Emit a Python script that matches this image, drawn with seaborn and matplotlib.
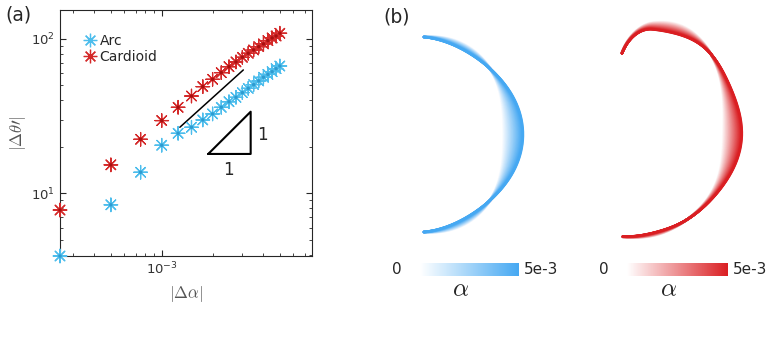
import numpy as np
import pandas as pd
import seaborn as sns
import matplotlib
matplotlib.use("Agg")
from matplotlib import pyplot as plt
from matplotlib.colors import LinearSegmentedColormap, Normalize
from matplotlib.cm import ScalarMappable
from matplotlib.ticker import NullFormatter

# ---- panel (a) data ----
d_alpha = [0.25e-3, 0.50e-3, 0.75e-3, 1.00e-3, 1.25e-3, 1.50e-3, 1.75e-3, 2.00e-3,
           2.25e-3, 2.50e-3, 2.75e-3, 3.00e-3, 3.25e-3, 3.50e-3, 3.75e-3, 4.00e-3,
           4.25e-3, 4.50e-3, 4.75e-3, 5.00e-3]
arc_dtheta = [3.93, 8.43, 13.7, 20.5, 24.5, 26.8, 29.9, 32.7, 36.1, 39.2,
              41.9, 44.9, 47.9, 50.6, 53.5, 56.5, 59.0, 61.4, 64.2, 66.8]
card_dtheta = [7.8, 15.3, 22.4, 29.6, 36.1, 42.7, 49.1, 54.8, 60.5, 66.1,
               71.0, 76.1, 80.8, 84.9, 89.1, 92.9, 97.5, 101.5, 104.5, 108.9]
shapes = ["Arc", "Cardioid"]

# slope guide and slope-1 triangle
guide_x = [1.28e-3, 3.04e-3]
guide_y = [26.8, 63.0]
tri_x = [1.885e-3, 3.36e-3, 3.36e-3, 1.885e-3]
tri_y = [18.0, 18.0, 33.8, 18.0]

blue = "#4DBDEC"
red = "#D42A2A"
blue_dark = "#2E9BD0"
red_dark = "#A80F0F"

df = pd.DataFrame({
    "d_alpha": d_alpha * 2,
    "d_theta": arc_dtheta + card_dtheta,
    "shape": [shapes[0]] * len(d_alpha) + [shapes[1]] * len(d_alpha),
})

sns.set_style("ticks", {"xtick.direction": "in", "ytick.direction": "in"})
plt.rcParams["font.family"] = ["DejaVu Sans"]
plt.rcParams["axes.edgecolor"] = "#262626"
plt.rcParams["axes.linewidth"] = 0.8

fig = plt.figure(figsize=(7.74, 3.44), dpi=100)
ax = fig.add_axes([60 / 774, 1 - 256 / 344, 252 / 774, 246 / 344])

sns.scatterplot(data=df, x="d_alpha", y="d_theta", hue="shape",
                palette=[blue, red], marker=(8, 2, 0), s=95, linewidth=0.9,
                ax=ax, zorder=3, clip_on=False)
sns.scatterplot(data=df, x="d_alpha", y="d_theta", hue="shape",
                palette=[blue_dark, red_dark], marker="o", s=6, linewidth=0,
                ax=ax, zorder=4, clip_on=False, legend=False)
ax.set_xscale("log")
ax.set_yscale("log")
ax.set_xlim(2.5e-4, 7.75e-3)
ax.set_ylim(arc_dtheta[0], 154)
ax.xaxis.set_minor_formatter(NullFormatter())
ax.yaxis.set_minor_formatter(NullFormatter())
ax.tick_params(which="both", top=True, right=True, colors="#262626",
               labelsize=9.5, labelcolor="#333333")
ax.tick_params(which="major", length=4, width=0.8)
ax.tick_params(which="minor", length=2, width=0.6)
ax.set_xlabel(r"$|\Delta\alpha|$", fontsize=12, color="#555555",
              math_fontfamily="cm", labelpad=5)
ax.set_ylabel(r"$|\Delta\theta\prime|$", fontsize=12, color="#555555",
              math_fontfamily="cm", labelpad=2)

ax.plot(guide_x, guide_y, color="black", lw=1.1)
ax.plot(tri_x, tri_y, color="black", lw=1.5)
ax.text(2.47e-3, 14.2, "1", fontsize=12, ha="center", va="center")
ax.text(3.93e-3, 23.9, "1", fontsize=12, ha="center", va="center")

sns.move_legend(ax, "upper left", bbox_to_anchor=(0.008, 0.959), title=None,
                frameon=False, handletextpad=-0.3, labelspacing=0.15,
                fontsize=10, borderaxespad=0.6)
fig.text(5 / 774, 1 - 15 / 344, "(a)", fontsize=13.5, va="center")

# ---- panel (b): families of curves coloured by alpha ----
axb = fig.add_axes([380 / 774, 0, 394 / 774, 1])
axb.set_xlim(380, 774)
axb.set_ylim(344, 0)
axb.axis("off")
axb.text(383, 17, "(b)", fontsize=13.5, va="center")

alpha_max = 5e-3
alpha_levels = np.linspace(0, alpha_max, 45)
blue_cmap = LinearSegmentedColormap.from_list("arc", ["#FFFFFF", "#45A8F2"])
red_cmap = LinearSegmentedColormap.from_list("card", ["#FFFFFF", "#DA1E22"])

# arc: centre, base radius profile, spread between alpha=0 and alpha=max
arc_centre = (424, 134.5)
arc_phi = np.radians(np.linspace(-90, 90, 300))
arc_r = 97.5 - 8.5 * np.cos(arc_phi) ** 2
arc_spread = 20 * np.cos(arc_phi) * np.cos(2 * arc_phi)

# cardioid: same description, with a curled top end
card_centre = (630, 135)
card_deg = np.linspace(-94, 95.6, 400)
card_phi = np.radians(card_deg)
card_r = (102 + 15 * np.exp(-((card_deg - 58) / 30) ** 2)
          - 23.7 * np.clip((card_deg - 78) / 18, 0, None) ** 2)
card_spread = (19 * np.exp(-(card_deg / 30) ** 2)
               - 10 * np.exp(-((card_deg - 68) / 18) ** 2)
               - 3 * np.exp(-((card_deg + 75) / 15) ** 2))

for centre, phi, r, spread, cmap in [
        (arc_centre, arc_phi, arc_r, arc_spread, blue_cmap),
        (card_centre, card_phi, card_r, card_spread, red_cmap)]:
    for a in alpha_levels:
        frac = a / alpha_max
        rr = r + (frac - 0.5) * spread
        axb.plot(centre[0] + rr * np.cos(phi), centre[1] - rr * np.sin(phi),
                 color=cmap(frac), lw=1.8, solid_capstyle="round")

# colour bars
norm = Normalize(0, alpha_max)
for x0, x1, cmap in [(420, 519, blue_cmap), (627, 728, red_cmap)]:
    cax = fig.add_axes([x0 / 774, 1 - 276 / 344, (x1 - x0) / 774, 13 / 344])
    cb = fig.colorbar(ScalarMappable(norm=norm, cmap=cmap), cax=cax,
                      orientation="horizontal")
    cb.outline.set_visible(False)
    cb.set_ticks([])
    axb.text(x0 - 23, 270, "0", fontsize=11, ha="center", va="center")
    axb.text(x1 + 5, 270, "5e-3", fontsize=11, ha="left", va="center")
    axb.text((x0 + x1) / 2 - 9, 289, r"$\alpha$", fontsize=18,
             ha="center", va="center", math_fontfamily="cm")

fig.savefig("out.png", dpi=100)
